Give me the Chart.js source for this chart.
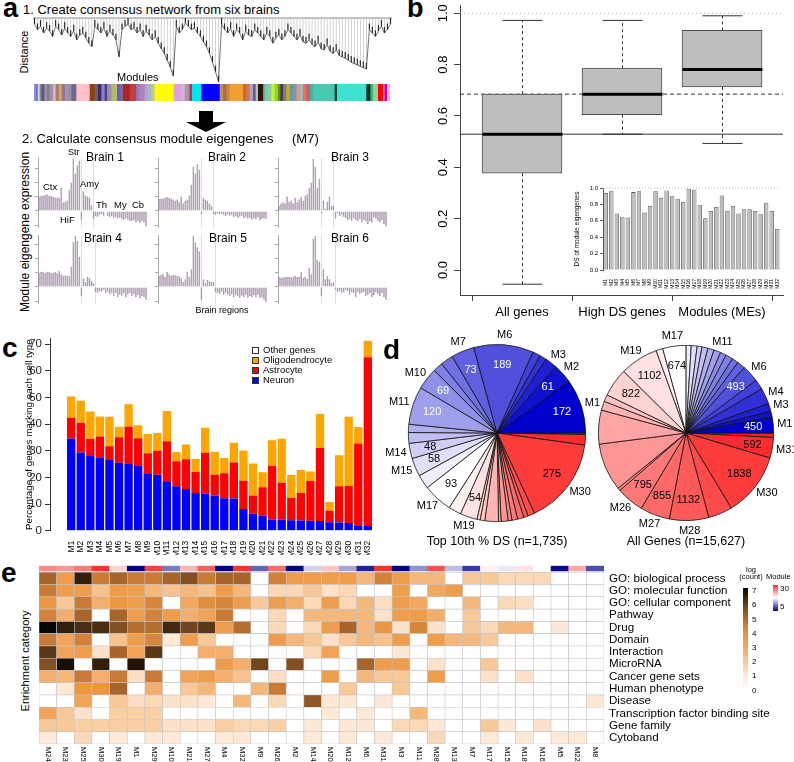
<!DOCTYPE html>
<html>
<head>
<meta charset="utf-8">
<script src="https://cdn.jsdelivr.net/npm/chart.js"></script>
<style>
body { margin: 0; background: #fff; }
#page { position: relative; width: 794px; height: 762px; overflow: hidden; font-family: "Liberation Sans", Arial, sans-serif; color: #000; }
canvas { position: absolute; }
.t { position: absolute; white-space: nowrap; line-height: 1; }
</style>
</head>
<body>
<div id="page"></div>
<script>
// ---- panel a: dendrogram leaf depths, module colour runs, eigengene bars (M7)
var dendroDepth = [0.12,0.2,0.15,0.25,0.18,0.22,0.3,0.15,0.2,0.28,0.18,0.25,0.3,0.22,0.35,0.28,0.25,0.32,0.4,0.45,
  0.15,0.2,0.25,0.18,0.3,0.22,0.28,0.35,
  0.6,0.2,0.15,
  0.12,0.2,0.18,0.25,0.2,0.3,0.22,0.28,0.35,0.3,0.4,0.48,0.55,0.65,0.75,0.88,
  0.15,0.25,0.2,
  0.1,0.15,0.2,0.18,0.25,0.3,0.38,0.45,0.55,0.68,0.82,0.97,
  0.12,0.2,0.25,0.18,0.3,0.2,0.25,0.35,0.22,0.28,0.3,0.2,0.25,0.3,0.35,0.25,0.3,0.4,0.32,0.28,0.35,0.3,
  0.2,0.25,0.3,0.35,0.28,0.38,0.4,0.35,0.42,0.45,0.38,0.48,0.5,0.42,0.52,0.55,0.5,0.58,0.6,0.62,0.65,0.68,0.7,0.72,0.74,0.76,0.78,
  0.2,0.25,0.3,0.22,0.15,0.25,0.2,0.12];

var moduleRunStart = [12,20,24,30,36,44,52,60,70,78,88,96,106,114,125,140,180,195,200,205,215,225,232,245,255,262,270,280,300,320,330,345,355,365,375,432,455,465,475,480,487,515,570,580,590,600,640,650,660,670,678,685,700,705,715,725,735,745,752,760,770,780,790,800,810,820,830,840,850,915,922,1010,1022,1030,1045,1060,1065,1072];
var moduleRunEnd = 1080;
var moduleRunColor = ['#9A8FC0','#4169E1','#D8D8F0','#8080A0','#5A5A6A','#9A90B0','#808080','#A090B0','#E0B0B0','#A08070','#F0A040','#8878A0','#B89090','#9A8EB0','#6A6A8A','#FFC0CB','#8B4513','#A0522D','#6A5A8A','#2F2F6F','#9080C0','#483D8B','#9A8AB0','#A8C060','#BDB76B','#6A5ACD','#7A6A9A','#B22222','#C04040','#9080C0','#B080C0','#C0A0D0','#9AC0C0','#D0C090','#FFFF00','#E0A0E0','#D8B0D8','#A0A0B0','#C08080','#B0306A','#00E5EE','#0000FF','#C09050','#A07050','#CD853F','#F0A030','#E06030','#C08050','#B0A0C0','#6A5A8A','#C0C0C0','#2A1A0A','#B08060','#40E0D0','#A0C0A0','#ADFF2F','#9ACD32','#6B8E23','#404040','#708090','#DAA520','#5F9EA0','#9A8AA0','#C0A0A0','#B0B0B0','#E07060','#CD5C5C','#40B0A0','#48C8B0','#004030','#40E0D0','#003020','#3CB371','#90D0A0','#FF0000','#FF69B4','#C000C0','#FFB0C0'];

var brain1 = [0.28,0.29,0.3,0.31,0.32,0.3,0.29,0.27,0.26,0.26,0.25,0.45,0.17,0.18,0.2,0.41,0.55,1.0,0.72,0.88,0.97,-0.17,0.38,0.3,0.28,0.26,0.12,-0.16,-0.1,-0.12,-0.08,-0.06,-0.1,0.02,-0.1,-0.12,-0.1,-0.14,-0.12,-0.15,-0.13,-0.16,-0.18,-0.14,-0.17,-0.2,-0.2,-0.18,-0.22,-0.2,-0.23,-0.2,-0.22,-0.3];
var brain2 = [0.23,0.24,0.24,0.25,0.27,0.25,0.24,0.22,0.2,0.22,0.18,0.28,0.15,0.2,0.22,0.3,0.5,0.85,0.72,0.9,0.8,-0.06,0.25,0.22,0.2,0.15,0.1,-0.06,-0.08,-0.05,-0.07,-0.06,-0.08,-0.1,-0.07,-0.09,-0.08,-0.12,-0.1,-0.13,-0.11,-0.09,-0.14,-0.12,-0.15,-0.13,-0.17,-0.14,-0.16,-0.12,-0.18,-0.15,-0.14,-0.16];
var brain3 = [0.1,0.14,0.17,0.15,0.28,0.18,0.2,0.15,0.25,0.17,0.22,0.27,0.2,0.3,0.32,0.45,0.55,1.0,0.85,0.45,0.62,-0.05,0.2,0.05,0.18,0.28,0.1,0.1,-0.15,-0.05,-0.1,-0.08,-0.12,-0.14,-0.18,-0.16,-0.2,-0.14,-0.18,-0.2,-0.16,-0.22,-0.18,-0.2,-0.25,-0.2,-0.22,-0.12,-0.15,-0.2,-0.22,-0.18,-0.25,-0.3];
var brain4 = [0.28,0.3,0.3,0.28,0.3,0.3,0.28,0.28,0.3,0.27,0.32,0.25,0.22,0.23,0.22,0.22,0.4,0.88,1.0,0.9,0.6,-0.17,0.17,0.1,0.2,0.18,0.12,0.08,-0.1,-0.12,-0.08,-0.1,-0.06,-0.12,-0.1,-0.15,-0.13,-0.18,-0.12,-0.2,-0.15,-0.17,-0.13,-0.2,-0.15,-0.12,-0.18,-0.14,-0.2,-0.16,-0.22,-0.18,-0.2,-0.25];
var brain5 = [0.22,0.24,0.26,0.2,0.3,0.25,0.22,0.24,0.23,0.22,0.21,0.18,0.1,0.15,0.3,0.2,0.35,1.0,0.88,0.78,0.7,-0.25,0.15,0.08,0.14,0.12,0.1,0.1,-0.1,-0.12,-0.14,-0.1,-0.16,-0.12,-0.15,-0.18,-0.14,-0.2,-0.15,-0.18,-0.22,-0.17,-0.2,-0.15,-0.22,-0.18,-0.2,-0.16,-0.2,-0.15,-0.22,-0.2,-0.25,-0.3];
var brain6 = [0.2,0.18,0.19,0.19,0.2,0.2,0.19,0.2,0.22,0.2,0.2,0.3,0.18,0.2,0.16,0.38,0.25,0.95,1.0,0.53,0.5,-0.17,0.35,0.15,0.22,0.15,0.08,0.1,-0.05,-0.1,-0.08,-0.12,-0.1,-0.06,-0.08,-0.15,-0.1,-0.12,-0.2,-0.1,-0.14,-0.12,-0.1,-0.18,-0.15,-0.12,-0.2,-0.16,-0.1,-0.14,-0.18,-0.12,-0.2,-0.25];
var brainRegionBreaks = [[21, 26.5], [21, 26.5], [21, 26.5], [21, 27.5], [21, 27.5], [21, 27.5]];
var brainTicks = [-0.275, 0, 0.275, 0.55, 0.825];

// ---- panel b: DS boxplots + inset
var boxGroups = ['All genes', 'High DS genes', 'Modules (MEs)'];
var boxLow = [-0.055, 0.529, 0.493];
var boxQ1 = [0.377, 0.605, 0.713];
var boxMedian = [0.529, 0.685, 0.781];
var boxQ3 = [0.685, 0.786, 0.933];
var boxHigh = [0.972, 0.972, 0.99];
var refSolid = 0.529, refDashed = 0.685, refDotted = 1.0;
var boxTicks = [0, 0.2, 0.4, 0.6, 0.8, 1.0];

var moduleNames = ['M1','M2','M3','M4','M5','M6','M7','M8','M9','M10','M11','M12','M13','M14','M15','M16','M17','M18','M19','M20','M21','M22','M23','M24','M25','M26','M27','M28','M29','M30','M31','M32'];
var moduleDS = [0.94,0.96,0.69,0.65,0.64,0.95,0.96,0.70,0.78,0.96,0.88,0.97,0.90,0.87,0.83,0.99,0.98,0.79,0.63,0.72,0.77,0.91,0.72,0.78,0.69,0.74,0.74,0.72,0.68,0.82,0.72,0.50];

// ---- panel c: % genes marking each cell type
var neuronPct =    [34.6,29.3,28.3,27.3,26.5,25.5,25.0,24.3,21.3,21.0,18.5,16.7,15.6,14.1,13.9,13.2,12.2,12.1,8.1,6.4,5.6,4.2,4.1,3.9,3.8,3.7,3.6,3.2,3.1,2.9,2.0,1.8];
var astrocytePct = [7.8,11.2,6.1,8.0,5.2,9.5,14.0,10.4,7.7,9.0,15.0,9.3,11.2,7.9,15.3,7.8,9.3,13.5,10.6,6.8,10.7,20.2,13.9,8.4,10.3,14.9,27.4,4.3,13.6,13.9,30.7,63.2];
var oligoPct =     [7.9,8.2,10.3,7.5,11.0,4.0,8.4,4.8,7.3,6.6,11.4,3.5,5.5,4.9,9.4,8.6,5.8,7.4,11.4,12.0,5.6,9.5,16.5,8.6,8.7,3.6,12.8,3.3,11.6,25.9,6.2,6.2];
var cellLegend = ['Other genes', 'Oligodendrocyte', 'Astrocyte', 'Neuron'];

// ---- panel d: module gene counts (M1..M32)
var topDSCounts = [172,61,38,22,25,189,73,40,31,69,120,26,34,48,58,45,93,40,54,10,15,43,8,22,12,18,20,14,22,275,33,5];
var allGeneCounts = [450,174,226,464,290,493,230,190,210,170,200,180,170,140,170,145,674,195,1102,822,200,260,977,1380,80,795,855,1132,694,1838,592,129];
var topDSLabelMods = [1,2,3,6,7,10,11,14,15,17,19,30];
var topDSNumberMods = [1,2,6,7,10,11,14,15,17,19,30];
var allLabelMods = [1,3,4,6,11,17,19,26,27,28,30,31];
var allNumberMods = [1,6,17,19,20,26,27,28,30,31];

// ---- panel e: enrichment heatmap, log(count)
var heatCols = ['M24','M23','M25','M30','M19','M1','M29','M10','M21','M27','M4','M32','M9','M26','M2','M14','M20','M12','M6','M31','M3','M11','M28','M13','M7','M17','M15','M18','M16','M5','M22','M8'];
var heatRows = ['GO: biological process','GO: molecular function','GO: cellular component','Pathway','Drug','Domain','Interaction','MicroRNA','Cancer gene sets','Human phenotype','Disease','Transcription factor binding site','Gene family','Cytoband'];
var heatValues = [
  [5,3.5,6.5,4.5,5,4.5,4.5,5,5.5,4.5,5,5,0,4.3,3.5,3.5,3.5,3.5,2.5,4.3,3.5,2.5,2.5,0,2,2,1.5,1.5,1.5,0,0,0],
  [4.5,3.5,3.5,2.2,3.5,3.5,2.5,2.2,2.5,2.2,3.5,2.5,0,1.5,1.5,2,1.2,1.5,0,0,3.5,0,3,3.5,0,0,0,0,0,0,0,0],
  [3.8,2,4.5,2.8,3.8,3.5,4.2,0,3,4,4.2,3.5,2,3.5,2.8,1.5,3.5,1.5,2.5,1.3,3.5,3,0,0,2.5,0,1.5,1.3,0,0,0,0],
  [4.3,2.8,5,0,5,3.5,4.3,3.5,2.8,3.2,4.5,0,0,1.5,0,2.5,2.5,2.5,2.5,1.2,3.5,3.5,2.8,0,2,0,0,0,0,0,0,0],
  [7,6.5,6.2,6.2,5.5,4.8,4.8,6.3,5.7,6,3.5,4.8,0,1.5,0,1.5,3.5,5,2.5,3.8,1.2,4.2,1.2,0,2,1.5,2.5,2.5,0,1,0,0],
  [4.5,3.2,4.3,0,2.2,3.5,4.2,1,3.5,2,0,0,0,3.5,2.5,2,1.2,2,2.5,2.2,3.5,0,3.5,2.5,2.5,2,0,0,0,0,0,0],
  [6,3.2,3.5,1.2,5,3.2,6,0,0,2.8,2.8,0,0,0,0,1.5,3.2,0,0,0,1,0,0,0,0,0,0,0,0,0,0,0],
  [5.5,6.8,0,6.5,0,6.7,0,0,0,0,3.5,2.8,5.7,0,5.5,0,0,0,5,3.5,3.5,0,1.2,0,0,2,0,0,0,0,0,0],
  [2.8,2.5,4.5,2.8,4.5,1.3,4.5,0,3.2,3.5,2.8,2.2,0,1.3,0,0,3.5,0,2.5,2,2,0,3.5,0,0,1.2,0,1.2,0,0,0,0],
  [0,1,3.8,3.8,5,0,2.8,0,2,2.5,0,0,2.5,4.5,0,0,0,2,0,0,2,0,0,0,0,0,0,0,0,0,0,0],
  [0,0,3.2,0,2,1.3,1.5,1.2,1.2,1,0,2.5,0,1.5,0,5.3,1,1,0,1,0,0,0,0,0,0,0,0,0,0,0,1],
  [3.2,2,1.2,0,1.8,1.8,1.8,0,0,0,0,0,0,0,0,0,1,0,1,0,0,2.5,0,0,0,0,0,0,0,0,0,0],
  [2,2,1.8,1.8,1.8,1.8,1.8,1.2,1.2,1.2,1.8,1.5,1.5,1.8,0,1,0,1,1,0,1.5,1.5,1,0,0,2,1,0,1.2,0,0,0],
  [1,0,1.5,0,1,0,1,1,0,0,1,1,0,0,0,1,0,1,0,1,0,0,1.5,0,0,1,0,1,0,1,1,0]
];
var heatLegendTicks = [7,6,5,4,3,2,1,0];

// ---------------------------------------------------------------
var FONT = '"Liberation Sans", Arial, sans-serif';
Chart.defaults.font.family = FONT;
Chart.defaults.color = '#000';
Chart.defaults.animation = false;
Chart.defaults.responsive = false;
Chart.defaults.events = [];
Chart.defaults.plugins.legend.display = false;
Chart.defaults.plugins.tooltip.enabled = false;

var page = document.getElementById('page');

function canvas(x, y, w, h) {
  var c = document.createElement('canvas');
  c.width = w; c.height = h;
  c.style.left = x + 'px'; c.style.top = y + 'px';
  c.style.width = w + 'px'; c.style.height = h + 'px';
  page.appendChild(c);
  return c;
}

function text(s, x, y, size, opt) {
  opt = opt || {};
  var d = document.createElement('div');
  d.className = 't';
  d.textContent = s;
  d.style.fontSize = size + 'px';
  if (opt.bold) d.style.fontWeight = 'bold';
  d.style.left = x + 'px';
  if (opt.rot) {
    d.style.top = y + 'px';
    d.style.transform = 'translate(-50%,-50%) rotate(-90deg)';
  } else {
    d.style.top = (y - size * 0.846) + 'px';
    if (opt.center) d.style.transform = 'translateX(-50%)';
  }
  page.appendChild(d);
  return d;
}

function box(x, y, w, h, css) {
  var d = document.createElement('div');
  d.style.position = 'absolute';
  d.style.left = x + 'px'; d.style.top = y + 'px';
  d.style.width = w + 'px'; d.style.height = h + 'px';
  for (var k in css) d.style[k] = css[k];
  page.appendChild(d);
  return d;
}

function mix(a, b, t) {
  return 'rgb(' + [0, 1, 2].map(function (k) { return Math.round(a[k] + (b[k] - a[k]) * t); }).join(',') + ')';
}

function hline(ctx, x1, x2, y, color, width, dash) {
  ctx.save();
  ctx.strokeStyle = color; ctx.lineWidth = width; ctx.setLineDash(dash || []);
  ctx.beginPath(); ctx.moveTo(x1, y); ctx.lineTo(x2, y); ctx.stroke();
  ctx.restore();
}
function vline(ctx, x, y1, y2, color, width, dash) {
  ctx.save();
  ctx.strokeStyle = color; ctx.lineWidth = width; ctx.setLineDash(dash || []);
  ctx.beginPath(); ctx.moveTo(x, y1); ctx.lineTo(x, y2); ctx.stroke();
  ctx.restore();
}

// ================= panel a =================
text('a', 3, 18, 27, { bold: true });
text('1. Create consensus network from six brains', 23, 14, 13);
text('Distance', 24, 52, 11, { rot: true });

new Chart(canvas(33, 16, 359, 68), {
  type: 'bar',
  data: {
    labels: dendroDepth.map(function (d, i) { return i; }),
    datasets: [
      { type: 'line', data: dendroDepth, borderColor: '#333', borderWidth: 0.7, pointRadius: 0, order: 0 },
      {
        // dark leaf tips
        data: dendroDepth.map(function (d) { return [Math.max(0.03, d - 0.09), d]; }),
        backgroundColor: '#2a2a2a', barPercentage: 0.4, categoryPercentage: 1, grouped: false, order: 1
      },
      {
        // faint branch lines from the root
        data: dendroDepth.map(function (d) { return [0.03, d]; }),
        backgroundColor: '#bdbdbd', barPercentage: 0.22, categoryPercentage: 1, grouped: false, order: 2
      }
    ]
  },
  options: {
    devicePixelRatio: 1,
    layout: { padding: 0 },
    scales: { x: { display: false }, y: { display: false, min: 0, max: 1, reverse: true } }
  },
  plugins: [{
    id: 'root',
    beforeDatasetsDraw: function (chart) {
      var a = chart.chartArea, y = chart.scales.y.getPixelForValue(0.03);
      hline(chart.ctx, a.left, a.right, y, '#888', 1);
    }
  }]
});
text('Modules', 117, 81, 11);

new Chart(canvas(34, 84, 356, 17), {
  type: 'bar',
  data: {
    datasets: [{
      data: moduleRunStart.map(function (s, i) {
        var e = i + 1 < moduleRunStart.length ? moduleRunStart[i + 1] : moduleRunEnd;
        return { x: [s, e], y: 0 };
      }),
      backgroundColor: moduleRunColor, borderWidth: 0, barThickness: 17
    }]
  },
  options: {
    devicePixelRatio: 1, indexAxis: 'y', layout: { padding: 0 },
    scales: {
      x: { type: 'linear', display: false, min: moduleRunStart[0], max: moduleRunEnd },
      y: { type: 'linear', display: false, offset: false, min: -0.5, max: 0.5 }
    }
  }
});

// arrow
box(199, 111, 14, 12, { background: '#000' });
box(186, 122, 0, 0, { borderLeft: '20px solid transparent', borderRight: '20px solid transparent', borderTop: '10px solid #000' });

text('2. Calculate consensus module eigengenes', 22, 143, 13);
text('(M7)', 292, 143, 13);
text('Module eigengene expression', 25, 232, 12, { rot: true });

function brainChart(x, y, padBottom, vals, breaks) {
  new Chart(canvas(x, y, 120, 82), {
    type: 'bar',
    data: {
      labels: vals.map(function (v, i) { return i; }),
      datasets: [{ data: vals, backgroundColor: '#A890AC', borderColor: '#846E8A', borderWidth: 0.4, barPercentage: 0.85, categoryPercentage: 1 }]
    },
    options: {
      devicePixelRatio: 1,
      layout: { padding: { top: 8, right: 3, bottom: padBottom, left: 0 } },
      scales: {
        x: { display: false },
        y: {
          min: -0.32, max: 1.02,
          afterBuildTicks: function (s) { s.ticks = brainTicks.map(function (v) { return { value: v }; }); },
          afterFit: function (s) { s.width = 8; },
          ticks: { display: false },
          grid: { drawOnChartArea: false, tickLength: 3, color: '#aaa' },
          border: { color: '#aaa' }
        }
      }
    },
    plugins: [{
      id: 'regions',
      beforeDatasetsDraw: function (chart) {
        var a = chart.chartArea, xs = chart.scales.x;
        breaks.forEach(function (b) { vline(chart.ctx, Math.round(xs.getPixelForValue(b)) + 0.5, a.top, a.bottom, '#dedede', 1); });
      }
    }]
  });
}
brainChart(30, 150, 4.4, brain1, brainRegionBreaks[0]);
brainChart(150, 150, 4.4, brain2, brainRegionBreaks[1]);
brainChart(270, 150, 4.4, brain3, brainRegionBreaks[2]);
brainChart(30, 227, 5.7, brain4, brainRegionBreaks[3]);
brainChart(150, 227, 5.7, brain5, brainRegionBreaks[4]);
brainChart(270, 227, 5.7, brain6, brainRegionBreaks[5]);

text('Brain 1', 105, 161, 12, { center: true });
text('Brain 2', 227, 161, 12, { center: true });
text('Brain 3', 350, 161, 12, { center: true });
text('Brain 4', 103, 242, 12, { center: true });
text('Brain 5', 228, 242, 12, { center: true });
text('Brain 6', 350, 242, 12, { center: true });
text('Ctx', 43, 190, 9.5);
text('Str', 68, 156, 9);
text('Amy', 80, 187, 9.5);
text('Th', 96, 208, 9.5);
text('My', 114, 208, 9.5);
text('Cb', 132, 208, 9.5);
text('HiF', 60, 223, 9.5);
text('Brain regions', 222, 314, 9, { center: true });

// ================= panel b =================
text('b', 407, 18, 27, { bold: true });

new Chart(canvas(400, 0, 394, 330), {
  type: 'bar',
  data: {
    datasets: [{
      data: boxGroups.map(function (g, i) { return { x: i + 1, y: [boxQ1[i], boxQ3[i]] }; }),
      backgroundColor: '#BEBEBE', borderColor: '#4D4D4D', borderWidth: 1, borderSkipped: false, barThickness: 80
    }]
  },
  options: {
    devicePixelRatio: 1,
    layout: { padding: { top: 5, right: 11 } },
    scales: {
      x: {
        type: 'linear', offset: false, min: 0.38, max: 3.61,
        afterBuildTicks: function (s) { s.ticks = boxGroups.map(function (g, i) { return { value: i + 1 }; }); },
        afterFit: function (s) { s.height = 35; },
        ticks: { callback: function (v) { return boxGroups[v - 1]; }, font: { size: 13 }, padding: 4, maxRotation: 0, autoSkip: false },
        grid: { drawOnChartArea: false, tickLength: 6, color: '#444' },
        border: { color: '#444' }
      },
      y: {
        min: -0.097, max: 1.032,
        afterBuildTicks: function (s) { s.ticks = boxTicks.map(function (v) { return { value: v }; }); },
        afterFit: function (s) { s.width = 60; },
        ticks: { display: false },
        grid: { drawOnChartArea: false, tickLength: 6, color: '#444' },
        border: { color: '#444' }
      }
    }
  },
  plugins: [{
    id: 'boxParts',
    beforeDatasetsDraw: function (chart) {
      var ctx = chart.ctx, a = chart.chartArea, ys = chart.scales.y;
      hline(ctx, a.left, a.right, ys.getPixelForValue(refDotted), '#aaa', 1, [1, 3]);
      hline(ctx, a.left, a.right, ys.getPixelForValue(refDashed), '#333', 1, [4, 3]);
      hline(ctx, a.left, a.right, ys.getPixelForValue(refSolid), '#333', 1);
    },
    afterDatasetsDraw: function (chart) {
      var ctx = chart.ctx, xs = chart.scales.x, ys = chart.scales.y;
      boxGroups.forEach(function (g, i) {
        var x = Math.round(xs.getPixelForValue(i + 1)) + 0.5;
        vline(ctx, x, ys.getPixelForValue(boxQ3[i]), ys.getPixelForValue(boxHigh[i]), '#333', 1, [3, 3]);
        vline(ctx, x, ys.getPixelForValue(boxQ1[i]), ys.getPixelForValue(boxLow[i]), '#333', 1, [3, 3]);
        hline(ctx, x - 20, x + 20, ys.getPixelForValue(boxHigh[i]), '#333', 1);
        hline(ctx, x - 20, x + 20, ys.getPixelForValue(boxLow[i]), '#333', 1);
        hline(ctx, x - 40, x + 40, ys.getPixelForValue(boxMedian[i]), '#000', 3);
      });
      ctx.save();
      ctx.fillStyle = '#000';
      ctx.textAlign = 'center'; ctx.textBaseline = 'middle';
      ctx.font = '13px ' + FONT;
      boxTicks.forEach(function (v) {
        ctx.save();
        ctx.translate(chart.chartArea.left - 17, ys.getPixelForValue(v));
        ctx.rotate(-Math.PI / 2);
        ctx.fillText(v.toFixed(1), 0, 0);
        ctx.restore();
      });
      // y axis title
      ctx.font = '14.3px ' + FONT;
      ctx.translate(425, 160);
      ctx.rotate(-Math.PI / 2);
      ctx.fillText('Differential stability (DS) of genes', 0, 0);
      ctx.restore();
    }
  }]
});

// inset: DS of module eigengenes
new Chart(canvas(565, 178, 225, 114), {
  type: 'bar',
  data: {
    labels: moduleNames,
    datasets: [{ data: moduleDS, backgroundColor: '#BEBEBE', borderColor: '#555', borderWidth: 0.8, borderSkipped: false, barPercentage: 0.8, categoryPercentage: 1 }]
  },
  options: {
    devicePixelRatio: 1,
    layout: { padding: { top: 10, right: 10 } },
    scales: {
      x: {
        afterFit: function (s) { s.height = 22; },
        ticks: { font: { size: 5 }, minRotation: 90, maxRotation: 90, autoSkip: false, padding: 1 },
        grid: { display: false }, border: { display: false }
      },
      y: {
        min: 0, max: 1,
        afterFit: function (s) { s.width = 38; },
        ticks: { stepSize: 0.2, font: { size: 6 }, padding: 2, callback: function (v) { return v.toFixed(1); } },
        grid: { drawOnChartArea: false, tickLength: 3, color: '#555' },
        border: { color: '#555' },
        title: { display: true, text: 'DS of module eigengenes', font: { size: 6.5 }, padding: { top: 8, bottom: 0 } }
      }
    }
  },
  plugins: [{
    id: 'insetRef',
    beforeDatasetsDraw: function (chart) {
      var a = chart.chartArea;
      hline(chart.ctx, a.left, a.right, chart.scales.y.getPixelForValue(1), '#bbb', 1, [1, 2]);
    }
  }]
});

// ================= panel c =================
text('c', 2, 358, 28, { bold: true });

function stackPoints(arr) { return arr.map(function (v, i) { return { x: i + 1, y: v }; }); }

new Chart(canvas(0, 315, 400, 240), {
  type: 'bar',
  data: {
    datasets: [
      { label: 'Neuron', data: stackPoints(neuronPct), backgroundColor: '#0000FF' },
      { label: 'Astrocyte', data: stackPoints(astrocytePct), backgroundColor: '#FF0000' },
      { label: 'Oligodendrocyte', data: stackPoints(oligoPct), backgroundColor: '#FFA500' }
    ]
  },
  options: {
    devicePixelRatio: 1,
    datasets: { bar: { barPercentage: 0.87, categoryPercentage: 1, borderWidth: 0 } },
    layout: { padding: { top: 23.7, right: 25 } },
    scales: {
      x: {
        type: 'linear', stacked: true, offset: false, min: -1.215, max: 32.75,
        afterBuildTicks: function (s) { s.ticks = moduleNames.map(function (m, i) { return { value: i + 1 }; }); },
        afterFit: function (s) { s.height = 24.3; },
        ticks: { callback: function (v) { return moduleNames[v - 1]; }, font: { size: 8.5 }, minRotation: 90, maxRotation: 90, autoSkip: false, padding: 2 },
        grid: { display: false }, border: { display: false }
      },
      y: {
        stacked: true, min: 0, max: 72,
        afterBuildTicks: function (s) { s.ticks = [0, 10, 20, 30, 40, 50, 60, 70].map(function (v) { return { value: v }; }); },
        afterFit: function (s) { s.width = 50; },
        ticks: { font: { size: 11.5 }, padding: 3, color: '#222' },
        grid: { drawOnChartArea: false, tickLength: 5, color: '#333' },
        border: { color: '#333' },
        title: { display: true, text: 'Percentage of genes marking each cell type', font: { size: 9.8 }, padding: { top: 23, bottom: 0 } }
      }
    }
  }
});

var legendFill = { 'Other genes': '#FFFFFF', 'Oligodendrocyte': '#FFA500', 'Astrocyte': '#FF0000', 'Neuron': '#0000FF' };
cellLegend.forEach(function (name, i) {
  var cy = 350 + i * 10;
  box(252, cy - 3, 5, 5, { background: legendFill[name], border: '0.8px solid #333' });
  text(name, 263, cy + 3.3, 9.5);
});

// ================= panel d =================
text('d', 383, 360, 28, { bold: true });

function pieColor(m) {
  if (m <= 17) return mix([0, 0, 205], [255, 255, 255], (m - 1) / 16);
  return mix([255, 255, 255], [255, 30, 30], (m - 17) / 15);
}

function pieChart(x, y, w, h, pad, counts, labelMods, numberMods) {
  var mods = counts.map(function (c, i) { return i + 1; }).reverse();
  new Chart(canvas(x, y, w, h), {
    type: 'pie',
    data: {
      labels: mods,
      datasets: [{
        data: counts.slice().reverse(),
        backgroundColor: mods.map(pieColor),
        borderColor: '#111', borderWidth: 0.8
      }]
    },
    options: { devicePixelRatio: 1, rotation: 90, layout: { padding: pad } },
    plugins: [{
      id: 'pieLabels',
      afterDatasetsDraw: function (chart) {
        var ctx = chart.ctx, meta = chart.getDatasetMeta(0), vals = chart.data.datasets[0].data;
        ctx.save();
        ctx.font = '11px ' + FONT; ctx.textBaseline = 'middle'; ctx.textAlign = 'center';
        meta.data.forEach(function (arc, k) {
          var p = arc.getProps(['x', 'y', 'startAngle', 'endAngle', 'outerRadius'], true);
          var m = mods[k], mid = (p.startAngle + p.endAngle) / 2, c = Math.cos(mid), s = Math.sin(mid);
          if (numberMods.indexOf(m) >= 0) {
            ctx.fillStyle = m <= 11 ? '#fff' : '#000';
            ctx.fillText(String(vals[k]), p.x + c * p.outerRadius * 0.77, p.y + s * p.outerRadius * 0.77);
          }
          if (labelMods.indexOf(m) >= 0) {
            var t = 'M' + m, tw = ctx.measureText(t).width, d = p.outerRadius + 4;
            ctx.fillStyle = '#000';
            ctx.fillText(t, p.x + c * (d + tw / 2), p.y + s * (d + 6));
          }
        });
        ctx.restore();
      }
    }]
  });
}
pieChart(380, 320, 230, 215, { left: 28, right: 24, top: 24, bottom: 13 }, topDSCounts, topDSLabelMods, topDSNumberMods);
pieChart(575, 320, 219, 215, { left: 23, right: 20, top: 25, bottom: 14 }, allGeneCounts, allLabelMods, allNumberMods);
text('Top 10th % DS (n=1,735)', 497, 546, 12.5, { center: true });
text('All Genes (n=15,627)', 686, 546, 12.5, { center: true });

// ================= panel e =================
text('e', 1, 583, 28, { bold: true });
text('Enrichment category', 25, 661, 11, { rot: true });

var heatStops = [[0, [255, 255, 255]], [1, [253, 233, 214]], [2, [248, 200, 152]], [3, [242, 168, 96]], [3.8, [236, 150, 64]], [4.6, [196, 118, 52]], [5.5, [130, 80, 34]], [6.3, [66, 40, 16]], [7, [8, 4, 0]]];
function heatColor(v) {
  for (var i = 1; i < heatStops.length; i++) {
    if (v <= heatStops[i][0]) {
      var a = heatStops[i - 1], b = heatStops[i];
      return mix(a[1], b[1], (v - a[0]) / (b[0] - a[0]));
    }
  }
  return mix(heatStops[heatStops.length - 1][1], heatStops[heatStops.length - 1][1], 0);
}
function moduleHeatColor(m) {
  if (m <= 4.5) return 'rgb(0,0,139)';
  if (m <= 16) return mix([0, 0, 139], [255, 255, 255], (m - 4.5) / 11.5);
  return mix([255, 255, 255], [255, 48, 48], Math.min(1, (m - 16) / 14));
}

var hmSets = [];
for (var r = heatRows.length - 1; r >= 0; r--) {
  hmSets.push({
    data: heatCols.map(function () { return 1; }),
    backgroundColor: heatValues[r].map(heatColor),
    borderColor: '#C4C4C4', borderWidth: 0.6, borderSkipped: false
  });
}
hmSets.push({ data: heatCols.map(function () { return 0.11; }), backgroundColor: 'rgba(0,0,0,0)', borderWidth: 0 });
hmSets.push({ data: heatCols.map(function () { return 0.43; }), backgroundColor: heatCols.map(function (c) { return moduleHeatColor(+c.slice(1)); }), borderWidth: 0 });

new Chart(canvas(0, 548, 794, 214), {
  type: 'bar',
  data: { labels: heatCols, datasets: hmSets },
  options: {
    devicePixelRatio: 1,
    datasets: { bar: { barPercentage: 1, categoryPercentage: 1 } },
    layout: { padding: { left: 39, top: 17.7, bottom: 18 } },
    scales: {
      x: { stacked: true, display: false },
      y: {
        stacked: true, position: 'right', min: 0, max: heatRows.length + 0.54,
        afterBuildTicks: function (s) { s.ticks = heatRows.map(function (n, i) { return { value: i + 0.5 }; }); },
        afterFit: function (s) { s.width = 190; },
        ticks: { callback: function (v) { return heatRows[heatRows.length - 1 - Math.floor(v)]; }, font: { size: 11.6 }, padding: 5, autoSkip: false },
        grid: { display: false, drawTicks: false }, border: { display: false }
      }
    }
  },
  plugins: [{
    id: 'colLabels',
    afterDraw: function (chart) {
      var ctx = chart.ctx, xs = chart.scales.x, a = chart.chartArea;
      ctx.save();
      ctx.font = '7.5px ' + FONT; ctx.fillStyle = '#000';
      ctx.textAlign = 'left'; ctx.textBaseline = 'middle';
      heatCols.forEach(function (c, i) {
        ctx.save();
        ctx.translate(xs.getPixelForValue(i), a.bottom + 3);
        ctx.rotate(Math.PI / 2);
        ctx.fillText(c, 0, 0);
        ctx.restore();
      });
      ctx.restore();
    }
  }]
});

// heatmap legends
var grad = heatStops.map(function (s) { return mix(s[1], s[1], 0) + ' ' + (s[0] / 7 * 100).toFixed(1) + '%'; }).join(',');
box(743, 588, 5, 102, { background: 'linear-gradient(to top,' + grad + ')' });
text('log', 751, 572, 7.5, { center: true });
text('(count)', 751, 579, 7.5, { center: true });
heatLegendTicks.forEach(function (v, i) { text(String(v), 752, 594 + i * 14.2, 8); });
text('Module', 766, 579, 7.5);
box(773, 585, 5, 26, { background: 'linear-gradient(to bottom, rgb(255,48,48), #fff, rgb(0,0,139))' });
text('30', 780, 592, 8);
text('5', 780, 610, 8);
</script>
</body>
</html>
